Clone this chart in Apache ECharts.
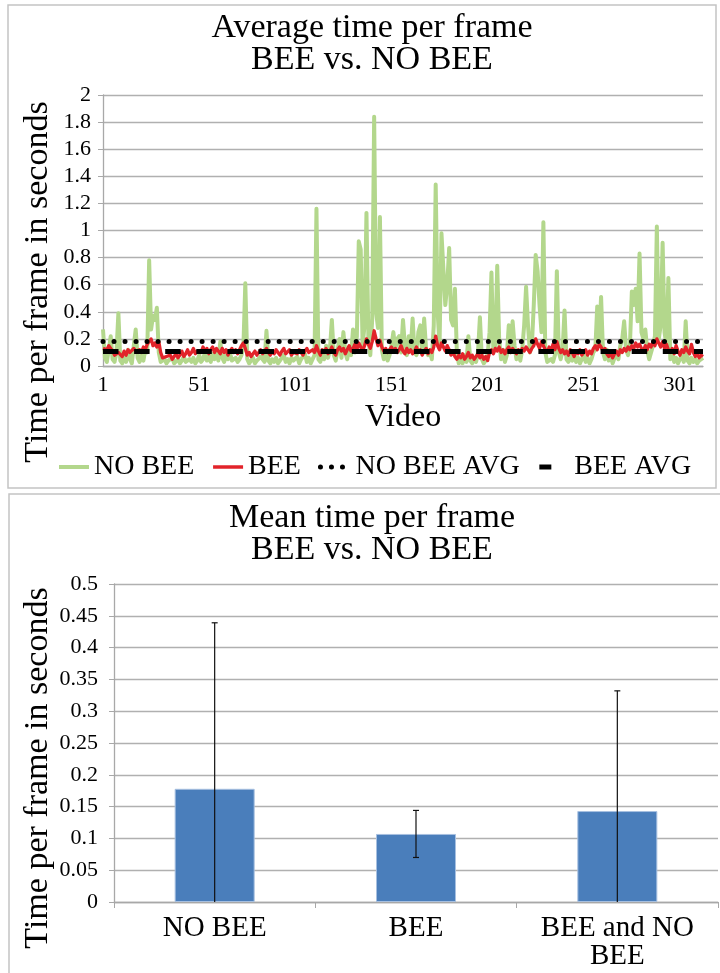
<!DOCTYPE html>
<html><head><meta charset="utf-8">
<script src="https://cdn.jsdelivr.net/npm/echarts@6/dist/echarts.min.js"></script>
<style>html,body{margin:0;padding:0;background:#fff}#c{width:720px;height:973px}</style>
</head><body><div id="c"></div>
<script>
// ---- Data ----
const noBee = [
0.27,0.06,0.03,0.12,0.22,0.05,0.03,0.10,0.39,0.04,
0.02,0.08,0.03,0.12,0.05,0.02,0.15,0.27,0.06,0.03,
0.08,0.04,0.12,0.10,0.78,0.27,0.37,0.34,0.43,0.10,
0.03,0.02,0.05,0.02,0.04,0.03,0.06,0.02,0.03,0.05,
0.02,0.04,0.07,0.03,0.02,0.05,0.03,0.06,0.02,0.04,
0.08,0.03,0.05,0.10,0.04,0.07,0.03,0.09,0.05,0.12,
0.04,0.18,0.06,0.03,0.08,0.05,0.10,0.04,0.03,0.06,
0.03,0.05,0.08,0.14,0.61,0.05,0.02,0.03,0.06,0.02,
0.04,0.03,0.07,0.05,0.03,0.26,0.04,0.02,0.05,0.03,
0.06,0.02,0.04,0.03,0.08,0.03,0.05,0.02,0.06,0.04,
0.03,0.07,0.02,0.05,0.04,0.09,0.03,0.06,0.02,0.05,
0.08,1.16,0.05,0.03,0.10,0.05,0.15,0.06,0.12,0.34,
0.08,0.04,0.12,0.20,0.06,0.25,0.10,0.05,0.14,0.08,
0.27,0.10,0.22,0.92,0.86,0.15,0.30,1.13,0.20,0.08,
0.35,1.84,0.40,0.28,1.10,0.12,0.05,0.10,0.04,0.08,
0.15,0.25,0.12,0.20,0.22,0.10,0.34,0.15,0.08,0.22,
0.12,0.35,0.10,0.08,0.25,0.30,0.10,0.35,0.12,0.08,
0.10,0.05,0.30,1.34,0.40,0.15,0.98,0.99,0.45,0.60,
0.87,0.34,0.30,0.57,0.10,0.02,0.05,0.02,0.08,0.03,
0.22,0.04,0.02,0.06,0.03,0.10,0.36,0.05,0.02,0.04,
0.08,0.25,0.69,0.10,0.15,0.74,0.20,0.05,0.12,0.03,
0.08,0.30,0.10,0.33,0.15,0.05,0.08,0.04,0.12,0.30,
0.585,0.30,0.10,0.15,0.45,0.82,0.70,0.45,0.25,1.06,
0.10,0.03,0.02,0.05,0.03,0.08,0.70,0.10,0.05,0.12,
0.41,0.05,0.03,0.08,0.04,0.10,0.03,0.06,0.02,0.05,
0.08,0.03,0.06,0.02,0.05,0.10,0.12,0.44,0.20,0.51,
0.10,0.05,0.12,0.04,0.08,0.02,0.06,0.10,0.05,0.15,
0.20,0.33,0.12,0.08,0.15,0.55,0.45,0.57,0.33,0.83,
0.25,0.20,0.27,0.12,0.05,0.10,0.15,0.22,1.03,0.20,
0.30,0.91,0.25,0.15,0.65,0.05,0.10,0.03,0.06,0.02,
0.05,0.08,0.03,0.33,0.04,0.02,0.06,0.03,0.05,0.02,
0.04,0.03,0.06
];
const bee = [
0.13,0.14,0.12,0.15,0.13,0.11,0.08,0.07,0.10,0.09,
0.07,0.11,0.08,0.12,0.10,0.09,0.13,0.11,0.10,0.12,
0.10,0.14,0.12,0.16,0.18,0.20,0.15,0.17,0.14,0.18,
0.10,0.06,0.05,0.07,0.06,0.08,0.05,0.07,0.09,0.06,
0.08,0.11,0.07,0.09,0.12,0.08,0.10,0.13,0.09,0.11,
0.12,0.10,0.14,0.11,0.13,0.09,0.12,0.14,0.10,0.13,
0.11,0.09,0.13,0.10,0.12,0.08,0.11,0.13,0.10,0.12,
0.09,0.12,0.15,0.17,0.13,0.08,0.10,0.07,0.09,0.11,
0.08,0.10,0.12,0.09,0.11,0.13,0.10,0.08,0.11,0.09,
0.12,0.10,0.08,0.11,0.13,0.09,0.10,0.12,0.08,0.10,
0.11,0.09,0.12,0.10,0.08,0.11,0.13,0.10,0.09,0.12,
0.10,0.15,0.11,0.08,0.12,0.10,0.13,0.09,0.11,0.14,
0.10,0.08,0.12,0.14,0.11,0.13,0.09,0.12,0.15,0.11,
0.13,0.16,0.12,0.17,0.14,0.11,0.15,0.20,0.16,0.13,
0.18,0.26,0.20,0.15,0.19,0.14,0.11,0.13,0.10,0.12,
0.14,0.11,0.13,0.10,0.12,0.15,0.11,0.09,0.13,0.10,
0.12,0.09,0.11,0.14,0.10,0.12,0.08,0.11,0.13,0.09,
0.12,0.10,0.14,0.22,0.15,0.12,0.17,0.14,0.11,0.15,
0.12,0.08,0.10,0.07,0.05,0.08,0.06,0.09,0.05,0.07,
0.10,0.06,0.08,0.05,0.07,0.09,0.06,0.08,0.05,0.07,
0.04,0.10,0.12,0.09,0.13,0.11,0.14,0.10,0.12,0.09,
0.12,0.14,0.10,0.13,0.11,0.09,0.12,0.10,0.13,0.11,
0.14,0.12,0.10,0.13,0.15,0.20,0.16,0.13,0.18,0.15,
0.12,0.10,0.14,0.11,0.16,0.12,0.18,0.13,0.10,0.12,
0.09,0.11,0.08,0.12,0.10,0.07,0.11,0.09,0.12,0.08,
0.10,0.12,0.08,0.11,0.09,0.13,0.15,0.12,0.16,0.14,
0.11,0.13,0.09,0.07,0.10,0.06,0.09,0.11,0.08,0.12,
0.10,0.13,0.11,0.14,0.12,0.15,0.13,0.17,0.14,0.16,
0.13,0.11,0.15,0.12,0.16,0.14,0.18,0.15,0.20,0.17,
0.14,0.18,0.13,0.16,0.12,0.10,0.13,0.09,0.15,0.11,
0.08,0.12,0.10,0.14,0.11,0.09,0.16,0.10,0.07,0.09,
0.06,0.08,0.07
];
const noBeeAvg = 0.178;
const beeAvg = 0.107;

const barCategories = ['NO BEE', 'BEE', 'BEE and NO\nBEE'];
const barMeans = [0.178, 0.107, 0.143];
const barErrors = [0.261, 0.037, 0.189];

const videos = noBee.map((_, i) => String(i + 1));

// ---- Styles ----
const FONT = 'Liberation Serif';
const TXT = '#000';
const GRID = '#b0b0b0';
const AXIS = '#a8a8a8';
const GREEN = '#b3d78c';
const RED = '#e2232a';
const DOTS = {color: '#000', width: 5, type: [0.01, 11], cap: 'round'};
const DASH = {color: '#000', width: 5, type: [15.5, 15.6], cap: 'butt'};

const chart = echarts.init(document.getElementById('c'), null, {renderer: 'canvas'});

const yTitle = (x, y) => ({
  type: 'text', x: x, y: y, rotation: Math.PI / 2, silent: true,
  style: {text: 'Time per frame in seconds', textAlign: 'center', textVerticalAlign: 'middle',
          font: '34px "Liberation Serif"', fill: TXT}
});

const option = {
  backgroundColor: '#fff',
  animation: false,
  textStyle: {fontFamily: FONT, color: TXT},
  graphic: [
    {type: 'rect', shape: {x: 8, y: 5, width: 708, height: 483}, style: {fill: 'none', stroke: '#c4c4c4', lineWidth: 1.5}, silent: true},
    {type: 'rect', shape: {x: 9, y: 494, width: 720, height: 490}, style: {fill: 'none', stroke: '#c4c4c4', lineWidth: 1.5}, silent: true},
    {type: 'text', x: 372, y: 12, style: {text: 'Average time per frame\nBEE vs. NO BEE', textAlign: 'center', font: '34px "Liberation Serif"', lineHeight: 32, fill: TXT}, silent: true},
    {type: 'text', x: 372, y: 502, style: {text: 'Mean time per frame\nBEE vs. NO BEE', textAlign: 'center', font: '34px "Liberation Serif"', lineHeight: 32, fill: TXT}, silent: true},
    yTitle(38, 282),
    yTitle(38, 768)
  ],
  legend: {
    left: 52, top: 448,
    itemWidth: 30, itemHeight: 14, itemGap: 17,
    itemStyle: {opacity: 0},
    lineStyle: {width: 4},
    textStyle: {fontFamily: FONT, fontSize: 28, color: TXT},
    data: [
      {name: 'NO BEE', lineStyle: {width: 4, color: GREEN}},
      {name: 'BEE', lineStyle: {width: 3.5, color: RED}},
      {name: 'NO BEE AVG', lineStyle: {width: 5, color: '#000', type: [0.01, 11], cap: 'round'}},
      {name: 'BEE AVG', lineStyle: {width: 5, color: '#000', type: [12, 40], cap: 'butt'}}
    ]
  },
  grid: [
    {left: 103, top: 95, width: 600, height: 271},
    {left: 114, top: 584, width: 604, height: 318}
  ],
  xAxis: [
    {
      gridIndex: 0, type: 'category', data: videos, boundaryGap: false,
      axisLine: {lineStyle: {color: AXIS, width: 1.3}},
      axisTick: {show: false},
      axisLabel: {interval: 49, fontFamily: FONT, fontSize: 22, color: TXT, margin: 8},
      name: 'Video', nameLocation: 'middle', nameGap: 36,
      nameTextStyle: {fontFamily: FONT, fontSize: 32, color: TXT}
    },
    {
      gridIndex: 1, type: 'category', data: barCategories,
      axisLine: {lineStyle: {color: AXIS, width: 1.3}},
      axisTick: {show: true, length: 6, lineStyle: {color: AXIS}},
      axisLabel: {fontFamily: FONT, fontSize: 29, lineHeight: 28, color: TXT, margin: 12}
    }
  ],
  yAxis: [
    {
      gridIndex: 0, type: 'value', min: 0, max: 2, interval: 0.2,
      axisLine: {show: true, lineStyle: {color: AXIS, width: 1.3}},
      axisTick: {show: true, length: 5, lineStyle: {color: AXIS}},
      splitLine: {lineStyle: {color: GRID, width: 1.3}},
      axisLabel: {fontFamily: FONT, fontSize: 22, color: TXT, margin: 12}
    },
    {
      gridIndex: 1, type: 'value', min: 0, max: 0.5, interval: 0.05,
      axisLine: {show: true, lineStyle: {color: AXIS, width: 1.3}},
      axisTick: {show: true, length: 5, lineStyle: {color: AXIS}},
      splitLine: {lineStyle: {color: GRID, width: 1.3}},
      axisLabel: {fontFamily: FONT, fontSize: 22, color: TXT, margin: 16}
    }
  ],
  series: [
    {
      name: 'NO BEE', type: 'line', xAxisIndex: 0, yAxisIndex: 0, data: noBee,
      symbol: 'none', showSymbol: false, sampling: null,
      itemStyle: {color: GREEN},
      lineStyle: {color: GREEN, width: 4, join: 'round'}
    },
    {
      name: 'BEE', type: 'line', xAxisIndex: 0, yAxisIndex: 0, data: bee,
      symbol: 'none', showSymbol: false,
      itemStyle: {color: RED},
      lineStyle: {color: RED, width: 3.3, join: 'round'}
    },
    {
      name: 'NO BEE AVG', type: 'line', xAxisIndex: 0, yAxisIndex: 0, data: [],
      symbol: 'none',
      itemStyle: {color: '#000'},
      lineStyle: DOTS,
      markLine: {
        silent: true, symbol: ['none', 'none'], label: {show: false},
        lineStyle: DOTS,
        emphasis: {disabled: true},
        data: [{yAxis: noBeeAvg}]
      }
    },
    {
      name: 'BEE AVG', type: 'line', xAxisIndex: 0, yAxisIndex: 0, data: [],
      symbol: 'none',
      itemStyle: {color: '#000'},
      lineStyle: DASH,
      markLine: {
        silent: true, symbol: ['none', 'none'], label: {show: false},
        lineStyle: DASH,
        emphasis: {disabled: true},
        data: [{yAxis: beeAvg}]
      }
    },
    {
      name: 'Mean', type: 'bar', xAxisIndex: 1, yAxisIndex: 1, data: barMeans,
      barWidth: 80,
      itemStyle: {color: '#4a7ebb', borderColor: '#a7c0e0', borderWidth: 1}
    },
    {
      name: 'Error', type: 'custom', xAxisIndex: 1, yAxisIndex: 1,
      data: barMeans.map((m, i) => [i, m, barErrors[i]]),
      encode: {x: 0, y: 1},
      z: 5,
      renderItem: function (params, api) {
        const i = api.value(0), m = api.value(1), e = api.value(2);
        const lo = Math.max(0, m - e), hi = m + e;
        const pHi = api.coord([i, hi]);
        const pLo = api.coord([i, lo]);
        const w = 3;
        const st = {stroke: '#111', lineWidth: 1.2};
        const children = [
          {type: 'line', shape: {x1: pHi[0], y1: pHi[1], x2: pLo[0], y2: pLo[1]}, style: st},
          {type: 'line', shape: {x1: pHi[0] - w, y1: pHi[1], x2: pHi[0] + w, y2: pHi[1]}, style: st}
        ];
        if (m - e >= 0) {
          children.push({type: 'line', shape: {x1: pLo[0] - w, y1: pLo[1], x2: pLo[0] + w, y2: pLo[1]}, style: st});
        }
        return {type: 'group', children: children};
      }
    }
  ]
};
chart.setOption(option);
</script>
</body></html>
